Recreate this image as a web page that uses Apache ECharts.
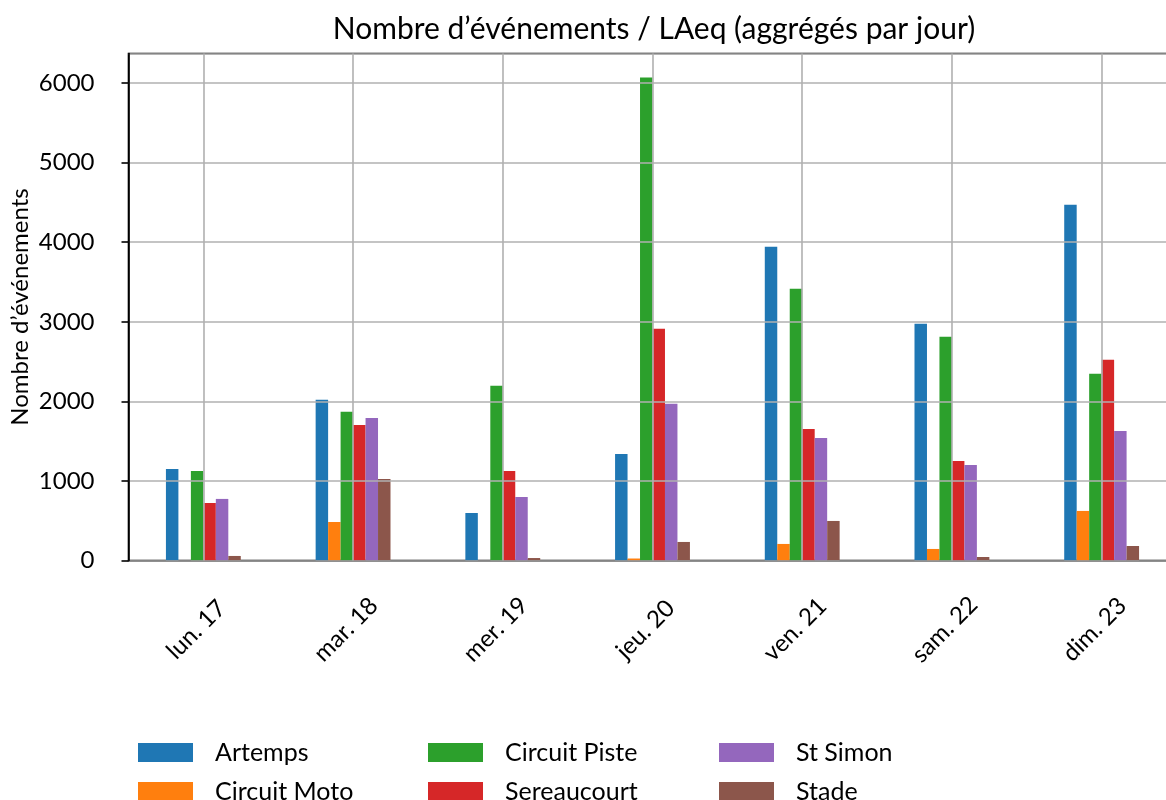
<!DOCTYPE html>
<html>
<head>
<meta charset="utf-8">
<script src="https://cdn.jsdelivr.net/npm/echarts@6/dist/echarts.min.js"></script>
<style>html,body{margin:0;padding:0;background:#fff;overflow:hidden}#c{width:1190px;height:800px}</style>
</head>
<body>
<div id="c"></div>
<script>
const categories = ['lun. 17', 'mar. 18', 'mer. 19', 'jeu. 20', 'ven. 21', 'sam. 22', 'dim. 23'];
const seriesNames = ['Artemps', 'Circuit Moto', 'Circuit Piste', 'Sereaucourt', 'St Simon', 'Stade'];
const artemps      = [1150, 2020, 597, 1340, 3943, 2975, 4472];
const circuitMoto  = [0, 484, 0, 25, 208, 145, 623];
const circuitPiste = [1126, 1868, 2195, 6069, 3415, 2811, 2346];
const sereaucourt  = [723, 1704, 1126, 2912, 1654, 1252, 2522];
const stSimon      = [774, 1792, 799, 1969, 1541, 1201, 1629];
const stade        = [57, 1025, 31, 233, 497, 44, 182];
const yTicks = [0, 1000, 2000, 3000, 4000, 5000, 6000];

const values = [artemps, circuitMoto, circuitPiste, sereaucourt, stSimon, stade];
const colors = ['#1f77b4', '#ff7f0e', '#2ca02c', '#d62728', '#9467bd', '#8c564b'];
const FONT = 'Lato';

const chart = echarts.init(document.getElementById('c'), null, {renderer: 'canvas'});

const gridCats = [];
for (let i = 0; i <= categories.length * 2; i++) gridCats.push(String(i));

const legendCols = [138, 428, 719];
const legendRows = [740, 779];
const legends = seriesNames.map((n, k) => ({
  left: legendCols[Math.floor(k / 2)], top: legendRows[k % 2], padding: 0,
  itemWidth: 55, itemHeight: 19, icon: 'rect',
  data: [n],
  textStyle: {fontFamily: FONT, fontSize: 25, color: '#000', lineHeight: 19, padding: [0, 0, 0, 17]}
}));

chart.setOption({
  animation: false,
  title: {
    text: 'Nombre d’événements / LAeq (aggrégés par jour)',
    left: 649, top: 9, textAlign: 'center',
    textStyle: {fontFamily: FONT, fontSize: 30, fontWeight: 'normal', color: '#000'}
  },
  legend: legends,
  grid: {left: 128.5, top: 53.5, width: 1048, height: 507, show: true, borderColor: '#000', borderWidth: 1.6,
    containLabel: false, outerBoundsMode: 'none'},
  xAxis: [{
    type: 'category', data: categories, gridIndex: 0,
    axisLine: {lineStyle: {color: '#000', width: 1.6}},
    axisTick: {alignWithLabel: true, length: 7, lineStyle: {color: '#000', width: 1.6}},
    axisLabel: {rotate: 45, align: 'center', verticalAlign: 'middle', margin: 62, padding: [0, 20, 0, 0],
      fontFamily: FONT, fontSize: 24, color: '#000', interval: 0},
    splitLine: {show: false}
  }, {
    type: 'category', data: gridCats, gridIndex: 0, boundaryGap: false, z: 10,
    axisLine: {show: false}, axisTick: {show: false}, axisLabel: {show: false},
    splitLine: {show: true, interval: function (i) { return i % 2 === 1; }, lineStyle: {color: '#b0b0b0', width: 1.6}}
  }],
  yAxis: {
    type: 'value', min: 0, max: 6372, interval: 1000, z: 10,
    name: 'Nombre d’événements', nameLocation: 'middle', nameRotate: 90, nameGap: 96, nameMoveOverlap: false,
    nameTextStyle: {fontFamily: FONT, fontSize: 24, color: '#000'},
    axisLine: {show: true, lineStyle: {color: '#000', width: 1.6}},
    axisTick: {show: true, length: 7, lineStyle: {color: '#000', width: 1.6}},
    axisLabel: {margin: 34, fontFamily: FONT, fontSize: 24, color: '#000', showMaxLabel: false,
      formatter: function (v) { return yTicks.indexOf(v) >= 0 ? String(v) : ''; }},
    splitLine: {show: true, lineStyle: {color: '#b0b0b0', width: 1.6}}
  },
  series: seriesNames.map((n, k) => ({
    name: n, type: 'bar', xAxisIndex: 0, data: values[k],
    barWidth: '8.333%', barGap: '0%',
    itemStyle: {color: colors[k]}
  }))
});
</script>
</body>
</html>
